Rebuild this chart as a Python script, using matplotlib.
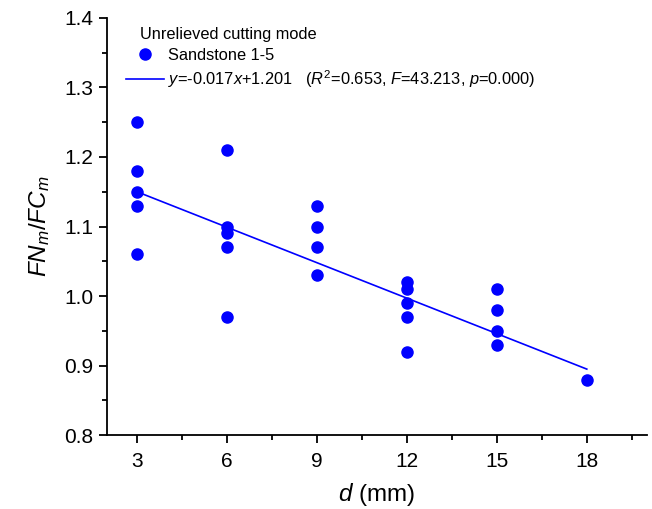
import numpy as np
import matplotlib
matplotlib.use("Agg")
import matplotlib.pyplot as plt
from matplotlib.ticker import MultipleLocator, FormatStrFormatter

plt.rcParams['font.family'] = ['Liberation Sans', 'DejaVu Sans']
plt.rcParams['mathtext.fontset'] = 'custom'
plt.rcParams['mathtext.rm'] = 'Liberation Sans'
plt.rcParams['mathtext.it'] = 'Liberation Sans:italic'

# datos
depth = [3, 3, 3, 3, 3,
         6, 6, 6, 6, 6,
         9, 9, 9, 9,
         12, 12, 12, 12, 12,
         15, 15, 15, 15,
         18]
ratio = [1.25, 1.18, 1.15, 1.13, 1.06,
         1.21, 1.10, 1.09, 1.07, 0.97,
         1.13, 1.10, 1.07, 1.03,
         1.02, 1.01, 0.99, 0.97, 0.92,
         1.01, 0.98, 0.95, 0.93,
         0.88]
slope = -0.017
intercept = 1.201
fit_range = [3, 18]

fig = plt.figure(figsize=(6.52, 5.09), dpi=100)
ax = fig.add_axes([0.164, 0.145, 0.828, 0.82])

ax.plot(depth, ratio, 'o', color='#0000FF', markersize=8, linestyle='none',
        label='Sandstone 1-5')
xf = np.array(fit_range, dtype=float)
ax.plot(xf, slope * xf + intercept, '-', color='#0000FF', linewidth=1.2,
        label=r'$y$=-0.017$x$+1.201   ($R^2$=0.653, $F$=43.213, $p$=0.000)')

ax.set_xlim(2, 20)
ax.set_ylim(0.8, 1.4)
ax.set_xticks([3, 6, 9, 12, 15, 18])
ax.xaxis.set_minor_locator(MultipleLocator(1.5))
ax.yaxis.set_major_locator(MultipleLocator(0.1))
ax.yaxis.set_minor_locator(MultipleLocator(0.05))
ax.yaxis.set_major_formatter(FormatStrFormatter('%.1f'))

for s in ['top', 'right']:
    ax.spines[s].set_visible(False)
for s in ['left', 'bottom']:
    ax.spines[s].set_linewidth(1.3)
ax.tick_params(which='major', direction='out', length=6, width=1.3, labelsize=15)
ax.tick_params(axis='x', which='major', pad=6)
ax.tick_params(which='minor', direction='out', length=3.5, width=1.3)

ax.set_xlabel(r'$d$ (mm)', fontsize=17.5, labelpad=7)
ax.set_ylabel(r'$FN_m/FC_m$', fontsize=17.5, labelpad=9)

ax.text(0.061, 0.959, 'Unrelieved cutting mode', transform=ax.transAxes,
        fontsize=11.8, ha='left', va='center')
ax.legend(loc='upper left', bbox_to_anchor=(0.035, 0.928), frameon=False,
          fontsize=11.8, handlelength=2.3, handletextpad=0.3, labelspacing=0.34,
          borderaxespad=0, borderpad=0)

fig.savefig('out.png', dpi=100)
